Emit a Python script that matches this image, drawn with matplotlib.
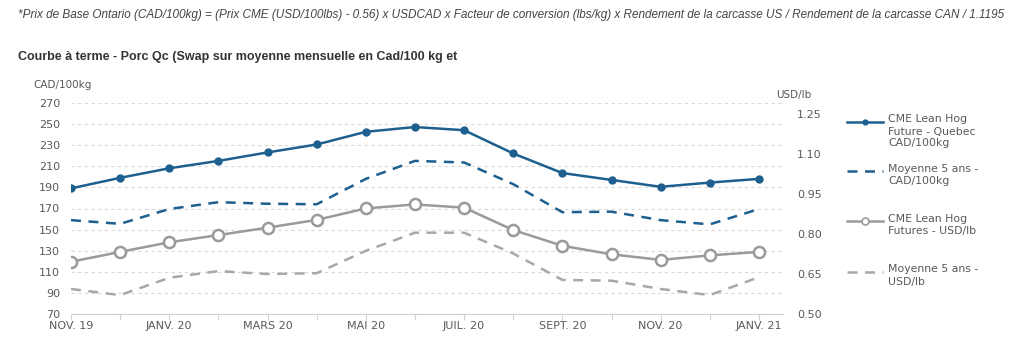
import matplotlib
matplotlib.use("Agg")
import matplotlib.pyplot as plt
from matplotlib.lines import Line2D

# data
months = ["NOV. 19", "DÉC. 19", "JANV. 20", "FÉVR. 20", "MARS 20", "AVR. 20", "MAI 20",
          "JUIN 20", "JUIL. 20", "AOÛT 20", "SEPT. 20", "OCT. 20", "NOV. 20", "DÉC. 20", "JANV. 21"]
hog_cad = [189, 199, 208, 215, 223, 230.5, 242.5, 247, 244, 222, 203.5, 197, 190.5, 194.5, 198]
avg5_cad = [159, 155.5, 169.5, 176, 174.5, 174, 198, 215, 213.5, 193, 166.5, 167, 159, 155, 169.5]
hog_usd = [0.697, 0.734, 0.770, 0.797, 0.825, 0.854, 0.897, 0.912, 0.900, 0.816, 0.757,
           0.725, 0.704, 0.721, 0.734]
avg5_usd = [0.595, 0.572, 0.637, 0.662, 0.651, 0.654, 0.738, 0.806, 0.806, 0.728, 0.629,
            0.626, 0.595, 0.572, 0.639]

blue = "#1d5f8f"
gray = "#9a9a9a"
gray_d = "#a8a8a8"
txt = "#595959"

plt.rcParams["font.family"] = ["DejaVu Sans"]

fig = plt.figure(figsize=(10.24, 3.5), dpi=100)
ax = fig.add_axes([71 / 1024, 1 - 314.3 / 350, (783 - 71) / 1024, (314.3 - 102.7) / 350])
ax2 = ax.twinx()

x = list(range(len(months)))

ax.plot(x, hog_cad, color=blue, lw=1.8, marker="o", ms=5, zorder=5)
ax.plot(x, avg5_cad, color=blue, lw=1.8, ls=(0, (4, 3)), zorder=4)
ax2.plot(x, hog_usd, color=gray, lw=1.8, marker="o", ms=8, mfc="white", mec=gray, mew=1.8, zorder=5)
ax2.plot(x, avg5_usd, color=gray_d, lw=1.8, ls=(0, (4, 3)), zorder=4)

ax.set_xlim(0, 14.49)
ax.set_ylim(70, 270)
ax.set_yticks(range(70, 271, 20))
ax2.set_ylim(0.5, 1.2935)
ax2.set_yticks([0.50, 0.65, 0.80, 0.95, 1.10, 1.25])
ax2.set_yticklabels(["0.50", "0.65", "0.80", "0.95", "1.10", "1.25"])

ax.set_xticks(x)
ax.set_xticklabels([m if i % 2 == 0 else "" for i, m in enumerate(months)])

for a in (ax, ax2):
    for s in a.spines.values():
        s.set_visible(False)
ax.spines["bottom"].set_visible(True)
ax.spines["bottom"].set_color("#d0d0d0")
ax.spines["bottom"].set_linewidth(0.8)

ax.grid(axis="y", color="#d9d9d9", ls=(0, (3, 3)), lw=0.8)
ax.set_axisbelow(True)
ax.tick_params(axis="y", length=0, labelsize=8, labelcolor=txt, pad=8)
ax.tick_params(axis="x", length=4, color="#d0d0d0", labelsize=8, labelcolor=txt, pad=1)
ax2.tick_params(axis="y", length=0, labelsize=8, labelcolor=txt, pad=10)

fig.text(33 / 1024, 1 - 85 / 350, "CAD/100kg", fontsize=7.5, color=txt, va="center")
fig.text(776 / 1024, 1 - 95 / 350, "USD/lb", fontsize=7.5, color=txt, va="center")

fig.text(18 / 1024, 1 - 15 / 350,
         "*Prix de Base Ontario (CAD/100kg) = (Prix CME (USD/100lbs) - 0.56) x USDCAD x Facteur de "
         "conversion (lbs/kg) x Rendement de la carcasse US / Rendement de la carcasse CAN / 1.1195",
         fontsize=8.5, style="italic", color="#444444", va="center", family="Liberation Sans")
fig.text(18 / 1024, 1 - 57 / 350,
         "Courbe à terme - Porc Qc (Swap sur moyenne mensuelle en Cad/100 kg et",
         fontsize=9, weight="bold", color="#333333", va="center", family="Liberation Sans")

# legend drawn by hand so the handle sits on the first text line
leg_items = [
    (dict(color=blue, lw=1.8, marker="o", ms=3.5), "CME Lean Hog\nFuture - Quebec\nCAD/100kg", 121.5),
    (dict(color=blue, lw=1.8, ls=(0, (4, 3))), "Moyenne 5 ans -\nCAD/100kg", 171),
    (dict(color=gray, lw=1.8, marker="o", ms=5, mfc="white", mec=gray, mew=1.2), "CME Lean Hog\nFutures - USD/lb", 221),
    (dict(color=gray_d, lw=1.8, ls=(0, (4, 3))), "Moyenne 5 ans -\nUSD/lb", 271.5),
]
for style, label, yy in leg_items:
    yf = 1 - yy / 350
    handle = Line2D([847 / 1024, 865 / 1024, 883 / 1024], [yf, yf, yf],
                    markevery=[1] if "marker" in style else None,
                    transform=fig.transFigure, **style)
    fig.add_artist(handle)
    fig.text(888 / 1024, yf + 7 / 350, label, fontsize=7.8, color=txt, va="top", linespacing=1.25)

fig.savefig("out.png", dpi=100)
